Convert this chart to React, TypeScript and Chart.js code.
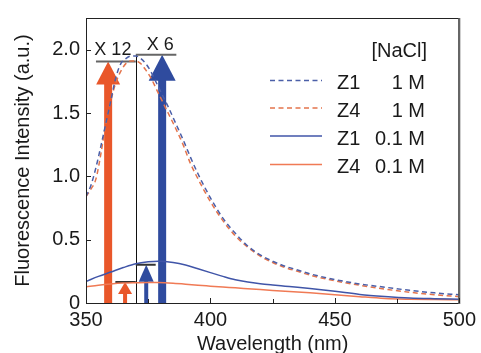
import React, { useEffect, useRef } from "react";
import { Chart, registerables } from "chart.js";

Chart.register(...registerables);

// ---------- data ----------
const wavelengths1M = [350, 352, 354, 356, 358, 360, 362, 364, 366, 368, 370, 372, 374, 376, 378, 380, 383, 386, 389, 392, 395, 400, 405, 410, 415, 420, 425, 430, 435, 440, 450, 460, 470, 480, 490, 500];
const z1_1M = [0.84, 0.93, 1.07, 1.24, 1.42, 1.6, 1.78, 1.89, 1.93, 1.95, 1.95, 1.93, 1.89, 1.83, 1.75, 1.67, 1.55, 1.42, 1.29, 1.15, 1.02, 0.83, 0.67, 0.55, 0.45, 0.38, 0.33, 0.29, 0.26, 0.23, 0.185, 0.15, 0.125, 0.1, 0.08, 0.065];
const z4_1M = [0.84, 0.9, 0.98, 1.18, 1.42, 1.6, 1.74, 1.83, 1.89, 1.91, 1.91, 1.89, 1.84, 1.78, 1.7, 1.62, 1.5, 1.38, 1.25, 1.1, 0.98, 0.8, 0.65, 0.53, 0.44, 0.37, 0.32, 0.28, 0.25, 0.22, 0.175, 0.14, 0.11, 0.085, 0.065, 0.05];

const wavelengths01M = [350, 355, 360, 365, 370, 375, 379, 385, 390, 395, 400, 405, 410, 415, 420, 425, 430, 435, 440, 450, 460, 470, 480, 490, 500];
const z1_01M = [0.17, 0.21, 0.245, 0.28, 0.31, 0.325, 0.33, 0.32, 0.3, 0.27, 0.24, 0.21, 0.183, 0.165, 0.152, 0.142, 0.133, 0.124, 0.114, 0.092, 0.068, 0.052, 0.04, 0.034, 0.03];
const z4_01M = [0.127, 0.14, 0.15, 0.157, 0.16, 0.162, 0.161, 0.155, 0.148, 0.14, 0.133, 0.126, 0.12, 0.113, 0.106, 0.099, 0.092, 0.086, 0.08, 0.066, 0.05, 0.036, 0.03, 0.027, 0.025];

const seriesNames = ["Z1", "Z4", "Z1", "Z4"];
const seriesConc = ["1 M", "1 M", "0.1 M", "0.1 M"];
const legendTitle = "[NaCl]";

const xTickValues = [350, 375, 400, 425, 450, 475, 500];
const xLabeledTicks = [350, 400, 450, 500];
const yTickValues = [0, 0.5, 1.0, 1.5, 2.0];

// arrows (wavelength, peak height)
const arrowWavelengths = [358.9, 365.7, 374.2, 380.6];
const arrowHeights = [1.906, 0.166, 0.302, 1.96];

// reference bars above arrows
const barStarts = [354, 370, 361.8, 370];
const barEnds = [370, 386.3, 370, 378];
const barLevels = [1.906, 1.96, 0.166, 0.302];
const dividerWavelength = 370;
const dividerTop = 1.96;

const factorLabels = ["X 12", "X 6"];
const factorLabelX = [360.8, 379.8];
const factorLabelY = [1.994, 2.04];

// ---------- styles ----------
const FONT = '"Liberation Sans", Arial, Helvetica, sans-serif';
const TEXT = "#1a1a1a";
const ORANGE_ARROW = "#e9572a";
const BLUE_ARROW = "#2f4b9e";
const seriesColors = ["#4b5fa8", "#e4744c", "#4055a8", "#f07a55"];
const seriesDashed = [true, true, false, false];
const arrowStyles = [
  { color: ORANGE_ARROW, shaft: 8, headW: 24, headH: 23 },
  { color: ORANGE_ARROW, shaft: 4, headW: 14, headH: 12 },
  { color: BLUE_ARROW, shaft: 4, headW: 15, headH: 17 },
  { color: BLUE_ARROW, shaft: 8, headW: 27, headH: 26 },
];
const barStyles = [
  { color: "#666", width: 2 },
  { color: "#666", width: 2 },
  { color: "#333", width: 2 },
  { color: "#333", width: 2 },
];

const overlayPlugin = {
  id: "overlay",
  beforeDatasetsDraw(chart: any) {
    const { ctx, scales } = chart;
    const x = scales.x;
    const y = scales.y;
    const base = y.getPixelForValue(0);
    ctx.save();
    arrowWavelengths.forEach((w, i) => {
      const st = arrowStyles[i];
      const px = x.getPixelForValue(w);
      const top = y.getPixelForValue(arrowHeights[i]);
      ctx.fillStyle = st.color;
      ctx.fillRect(px - st.shaft / 2, top + st.headH - 1, st.shaft, base - top - st.headH + 1);
      ctx.beginPath();
      ctx.moveTo(px, top);
      ctx.lineTo(px + st.headW / 2, top + st.headH);
      ctx.lineTo(px - st.headW / 2, top + st.headH);
      ctx.closePath();
      ctx.fill();
    });
    // divider
    ctx.strokeStyle = "#111";
    ctx.lineWidth = 1;
    const dx = Math.round(x.getPixelForValue(dividerWavelength)) + 0.5;
    ctx.beginPath();
    ctx.moveTo(dx, y.getPixelForValue(dividerTop));
    ctx.lineTo(dx, base);
    ctx.stroke();
    // bars
    barStarts.forEach((s, i) => {
      const st = barStyles[i];
      ctx.strokeStyle = st.color;
      ctx.lineWidth = st.width;
      const py = y.getPixelForValue(barLevels[i]);
      ctx.beginPath();
      ctx.moveTo(x.getPixelForValue(s), py);
      ctx.lineTo(x.getPixelForValue(barEnds[i]), py);
      ctx.stroke();
    });
    // factor labels
    ctx.fillStyle = TEXT;
    ctx.font = `18px ${FONT}`;
    ctx.textAlign = "center";
    ctx.textBaseline = "middle";
    factorLabels.forEach((t, i) => {
      ctx.fillText(t, x.getPixelForValue(factorLabelX[i]), y.getPixelForValue(factorLabelY[i]));
    });
    ctx.restore();
  },
  afterDatasetsDraw(chart: any) {
    const { ctx, chartArea, scales } = chart;
    const x = scales.x;
    const y = scales.y;
    ctx.save();
    // frame
    ctx.strokeStyle = "#222";
    ctx.lineWidth = 1;
    ctx.strokeRect(chartArea.left + 0.5, chartArea.top + 0.5, chartArea.right - chartArea.left - 1, chartArea.bottom - chartArea.top);
    ctx.strokeStyle = "#666";
    ctx.lineWidth = 2;
    ctx.beginPath();
    ctx.moveTo(chartArea.right, chartArea.top);
    ctx.lineTo(chartArea.right, chartArea.bottom + 1);
    ctx.stroke();
    // inward ticks
    ctx.strokeStyle = "#222";
    ctx.lineWidth = 1;
    xTickValues.forEach((v) => {
      const px = Math.round(x.getPixelForValue(v)) + 0.5;
      const len = xLabeledTicks.includes(v) ? 5 : 4;
      ctx.beginPath();
      ctx.moveTo(px, chartArea.bottom);
      ctx.lineTo(px, chartArea.bottom - len);
      ctx.stroke();
    });
    yTickValues.forEach((v) => {
      const py = Math.round(y.getPixelForValue(v)) + 0.5;
      ctx.beginPath();
      ctx.moveTo(chartArea.left, py);
      ctx.lineTo(chartArea.left + 5, py);
      ctx.stroke();
    });
    // legend
    ctx.font = `20px ${FONT}`;
    ctx.fillStyle = TEXT;
    ctx.textBaseline = "middle";
    ctx.textAlign = "right";
    ctx.fillText(legendTitle, 427, 51);
    const rowY = [83.5, 111, 139, 167.5];
    seriesNames.forEach((n, i) => {
      const ly = rowY[i];
      ctx.strokeStyle = seriesColors[i];
      ctx.lineWidth = 1.5;
      ctx.setLineDash(seriesDashed[i] ? [5, 3.5] : []);
      ctx.beginPath();
      ctx.moveTo(270, ly - 3);
      ctx.lineTo(322, ly - 3);
      ctx.stroke();
      ctx.setLineDash([]);
      ctx.textAlign = "left";
      ctx.fillText(n, 337, ly);
      ctx.textAlign = "right";
      ctx.fillText(seriesConc[i], 425, ly);
    });
    ctx.restore();
  },
};

export default function App() {
  const ref = useRef<HTMLCanvasElement | null>(null);
  useEffect(() => {
    if (!ref.current) return;
    const mk = (xs: number[], ys: number[]) => xs.map((w, i) => ({ x: w, y: ys[i] }));
    const datasets = [
      mk(wavelengths1M, z1_1M),
      mk(wavelengths1M, z4_1M),
      mk(wavelengths01M, z1_01M),
      mk(wavelengths01M, z4_01M),
    ].map((data, i) => ({
      label: `${seriesNames[i]} ${seriesConc[i]}`,
      data,
      borderColor: seriesColors[i],
      backgroundColor: seriesColors[i],
      borderWidth: 1.5,
      borderDash: seriesDashed[i] ? [5, 3.5] : [],
      pointRadius: 0,
      fill: false,
      cubicInterpolationMode: "monotone" as const,
    }));
    const chart = new Chart(ref.current, {
      type: "line",
      data: { datasets },
      plugins: [overlayPlugin],
      options: {
        responsive: false,
        animation: false,
        devicePixelRatio: 1,
        layout: { padding: { top: 15, right: 19, left: 0, bottom: 0 } },
        plugins: { legend: { display: false }, tooltip: { enabled: false } },
        scales: {
          x: {
            type: "linear",
            min: 350,
            max: 500,
            afterBuildTicks: (s: any) => {
              s.ticks = xTickValues.map((v) => ({ value: v }));
            },
            afterFit: (s: any) => {
              s.height = 50;
            },
            grid: { display: false, drawTicks: false },
            border: { display: false },
            ticks: {
              padding: 5,
              color: TEXT,
              autoSkip: false,
              maxRotation: 0,
              font: { family: FONT, size: 20 },
              callback: (v: any) => (xLabeledTicks.includes(Number(v)) ? String(v) : ""),
            },
            title: {
              display: true,
              text: "Wavelength (nm)",
              color: TEXT,
              font: { family: FONT, size: 20 },
              padding: { top: 0, bottom: -3 },
            },
          },
          y: {
            type: "linear",
            min: 0,
            max: 2.25,
            afterBuildTicks: (s: any) => {
              s.ticks = yTickValues.map((v) => ({ value: v }));
            },
            afterFit: (s: any) => {
              s.width = 86;
            },
            grid: { display: false, drawTicks: false },
            border: { display: false },
            ticks: {
              padding: 6,
              color: TEXT,
              font: { family: FONT, size: 20 },
              callback: (v: any) => (Number(v) === 0 ? "0" : Number(v).toFixed(1)),
            },
            title: {
              display: true,
              text: "Fluorescence Intensity (a.u.)",
              color: TEXT,
              font: { family: FONT, size: 20 },
              padding: { top: 11, bottom: 0 },
            },
          },
        },
      },
    });
    return () => chart.destroy();
  }, []);
  return (
    <div style={{ position: "fixed", left: 0, top: 0, width: 481, height: 353, background: "#fff" }}>
      <canvas ref={ref} width={481} height={353} />
    </div>
  );
}
